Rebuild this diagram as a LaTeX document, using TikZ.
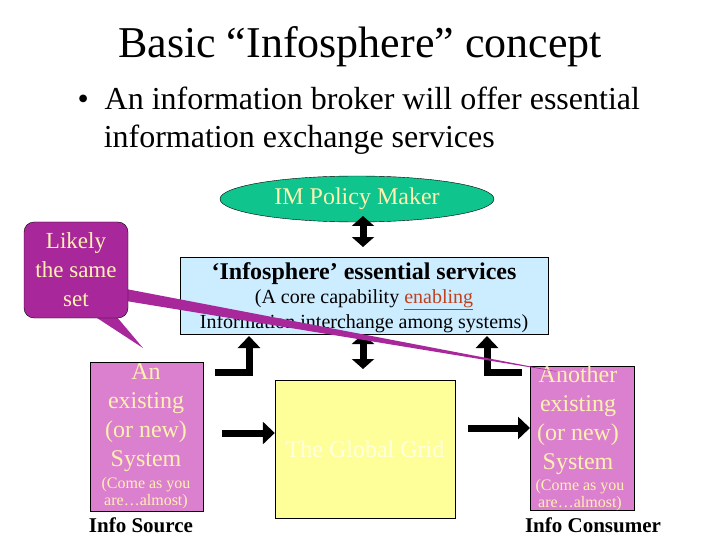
\documentclass[tikz,border=0pt]{standalone}
\usepackage{fontspec}
\setmainfont{Liberation Serif}
\usetikzlibrary{shapes.geometric,arrows.meta}
\definecolor{ellg}{HTML}{10C48E}
\definecolor{lblue}{HTML}{CCECFF}
\definecolor{pinkb}{HTML}{DB7FCF}
\definecolor{ltxt}{HTML}{FFF2B0}
\definecolor{yelb}{HTML}{FFFF99}
\definecolor{purp}{HTML}{A8289C}
\definecolor{enab}{HTML}{C0401C}
\begin{document}
\begin{tikzpicture}[x=1pt,y=-1pt,
  blk/.style={line width=7pt,-{Triangle[length=12pt,width=22pt]}},
  dblk/.style={line width=7pt,{Triangle[length=10pt,width=22pt]}-{Triangle[length=10pt,width=22pt]}},
  sys/.style={draw=black,fill=pinkb,inner sep=0pt},
  big/.style={align=center,font=\fontsize{24}{29}\selectfont,text=ltxt},
  small/.style={font=\fontsize{16}{17}\selectfont,text=ltxt,align=center}]
\useasboundingbox (0,0) rectangle (720,540);
\node (title) at (360,47) {\fontsize{44}{48}\selectfont Basic “Infosphere” concept};
\node[anchor=west,align=left,font=\fontsize{32}{38}\selectfont] (bul) at (74,121)
 {\textbullet\ \ An information broker will offer essential\\\hspace{0.82em}information exchange services};
\node[ellipse,draw=black,fill=ellg,minimum width=274pt,minimum height=46pt,text=ltxt,font=\fontsize{24}{26}\selectfont] (pol) at (357,199) {IM Policy Maker};
\node[draw=black,fill=lblue,minimum width=368pt,minimum height=77pt] (svc) at (364,296) {};
\node[font=\fontsize{24}{26}\selectfont\bfseries] (svct) at (364,274) {‘Infosphere’ essential services};
\node[font=\fontsize{20}{22}\selectfont] (svc1) at (364,300) {(A core capability {\color{enab}\underline{enabling}}};
\node[font=\fontsize{20}{22}\selectfont] (svc2) at (364,324) {Information interchange among systems)};
\node[draw=black,fill=yelb,minimum width=180pt,minimum height=138pt,text=yelb!30!white,font=\fontsize{24}{26}\selectfont] (grid) at (365,449) {The Global Grid};
\node[sys,minimum width=113pt,minimum height=149pt,anchor=north west] (src) at (90,362) {};
\node[big,anchor=north] (srct) at (146,360) {An\\existing\\(or new)\\System};
\node[small,anchor=south] (srcs) at (146,512) {(Come as you\\are…almost)};
\node[sys,minimum width=104pt,minimum height=144pt,anchor=north west] (dst) at (530,366) {};
\node[big,anchor=north] (dstt) at (578,362) {Another\\existing\\(or new)\\System};
\node[small,anchor=south] (dsts) at (580,514) {(Come as you\\are…almost)};
\node[font=\fontsize{21}{22}\selectfont\bfseries] (isrc) at (141,525) {Info Source};
\node[font=\fontsize{21}{22}\selectfont\bfseries] (icon) at (593,525) {Info Consumer};
% arrows
\draw[dblk] (363,216) -- (363,247);
\draw[dblk] (363,334) -- (363,369);
\coordinate (la) at (215,372); \coordinate (lb) at (249,372);
\draw[blk] (la) -- (lb) -- (249,336);
\coordinate (ra) at (522,372); \coordinate (rb) at (487,372);
\draw[blk] (ra) -- (rb) -- (487,336);
\coordinate (ha) at (222,433);
\draw[blk] (ha) -- (grid.west|-ha);
\coordinate (hb) at (468,428);
\draw[blk] (hb) -- (dst.west|-hb);
% callout
\fill[purp] (94,316) -- (143,348) -- (116,316) -- cycle;
\fill[purp] (126,289) -- (565,373) -- (126,301) -- cycle;
\node[draw=black,fill=purp,rounded corners=10pt,minimum width=104pt,minimum height=96pt,text=ltxt,align=center,font=\fontsize{23}{29}\selectfont,inner sep=0pt] (call) at (76,270) {Likely\\the same\\set};
\end{tikzpicture}
\end{document}
